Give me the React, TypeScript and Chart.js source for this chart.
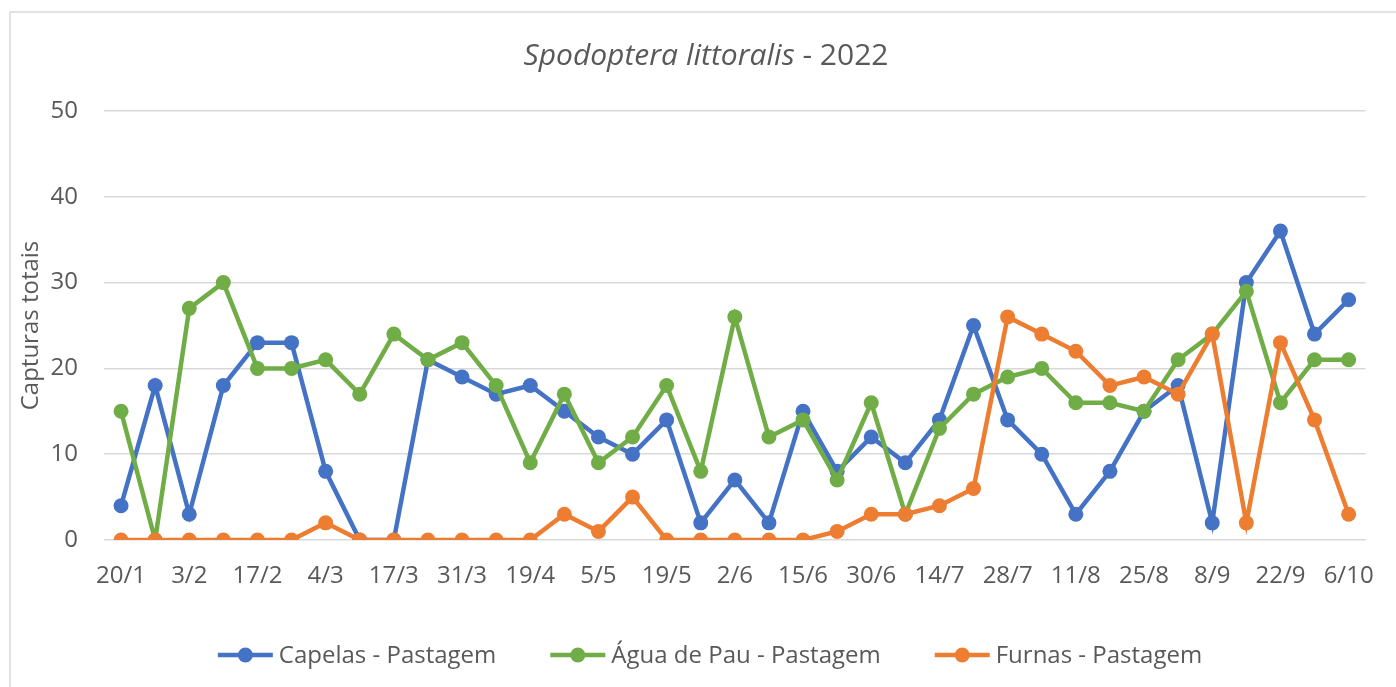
import React, { useEffect, useRef } from "react";
import { Chart, registerables } from "chart.js";

Chart.register(...registerables);

const dates = [
  "20/1", "27/1", "3/2", "10/2", "17/2", "24/2", "4/3", "10/3", "17/3", "24/3",
  "31/3", "7/4", "19/4", "27/4", "5/5", "12/5", "19/5", "26/5", "2/6", "9/6",
  "15/6", "22/6", "30/6", "7/7", "14/7", "21/7", "28/7", "4/8", "11/8", "18/8",
  "25/8", "1/9", "8/9", "15/9", "22/9", "29/9", "6/10",
];

const capelas = [
  4, 18, 3, 18, 23, 23, 8, 0, 0, 21, 19, 17, 18, 15, 12, 10, 14, 2, 7, 2,
  15, 8, 12, 9, 14, 25, 14, 10, 3, 8, 15, 18, 2, 30, 36, 24, 28,
];

const aguaDePau = [
  15, 0, 27, 30, 20, 20, 21, 17, 24, 21, 23, 18, 9, 17, 9, 12, 18, 8, 26, 12,
  14, 7, 16, 3, 13, 17, 19, 20, 16, 16, 15, 21, 24, 29, 16, 21, 21,
];

const furnas = [
  0, 0, 0, 0, 0, 0, 2, 0, 0, 0, 0, 0, 0, 3, 1, 5, 0, 0, 0, 0,
  0, 1, 3, 3, 4, 6, 26, 24, 22, 18, 19, 17, 24, 2, 23, 14, 3,
];

const seriesNames = ["Capelas - Pastagem", "Água de Pau - Pastagem", "Furnas - Pastagem"];
const seriesColors = ["#4472C4", "#70AD47", "#ED7D31"];
const yTicks = [0, 10, 20, 30, 40, 50];

const FONT = "'Open Sans', sans-serif";
const TEXT = "#595959";
const SMALL = 24;
const TITLE = 30;

const decorPlugin = {
  id: "decor",
  beforeDraw(chart: any) {
    const ctx = chart.ctx;
    ctx.save();
    ctx.fillStyle = "#ffffff";
    ctx.fillRect(0, 0, chart.width, chart.height);
    ctx.strokeStyle = "#d9d9d9";
    ctx.lineWidth = 1.5;
    ctx.strokeRect(10, 12, 1500, 800);
    ctx.restore();
  },
  afterDraw(chart: any) {
    const ctx = chart.ctx;
    const area = chart.chartArea;
    ctx.save();
    // Title
    ctx.fillStyle = TEXT;
    ctx.textBaseline = "alphabetic";
    ctx.font = `italic ${TITLE}px ${FONT}`;
    const t1 = "Spodoptera littoralis";
    const w1 = ctx.measureText(t1).width;
    ctx.font = `${TITLE}px ${FONT}`;
    const t2 = " - 2022";
    const w2 = ctx.measureText(t2).width;
    const tx = 706 - (w1 + w2) / 2;
    ctx.font = `italic ${TITLE}px ${FONT}`;
    ctx.textAlign = "left";
    ctx.fillText(t1, tx, 65);
    ctx.font = `${TITLE}px ${FONT}`;
    ctx.fillText(t2, tx + w1, 65);

    // Y axis title
    ctx.save();
    ctx.translate(38, (area.top + area.bottom) / 2);
    ctx.rotate(-Math.PI / 2);
    ctx.font = `${SMALL}px ${FONT}`;
    ctx.textAlign = "center";
    ctx.textBaseline = "alphabetic";
    ctx.fillText("Capturas totais", 0, 0);
    ctx.restore();

    // Legend
    ctx.font = `${SMALL}px ${FONT}`;
    const markerW = 55;
    const gapText = 6;
    const gapItem = 54;
    const widths = seriesNames.map((n) => ctx.measureText(n).width);
    let total = 0;
    widths.forEach((w, i) => {
      total += markerW + gapText + w + (i < widths.length - 1 ? gapItem : 0);
    });
    let x = 710 - total / 2;
    const ly = 655;
    seriesNames.forEach((n, i) => {
      ctx.strokeStyle = seriesColors[i];
      ctx.lineWidth = 4.5;
      ctx.lineCap = "butt";
      ctx.beginPath();
      ctx.moveTo(x, ly);
      ctx.lineTo(x + markerW, ly);
      ctx.stroke();
      ctx.fillStyle = seriesColors[i];
      ctx.beginPath();
      ctx.arc(x + markerW / 2, ly, 7.5, 0, Math.PI * 2);
      ctx.fill();
      ctx.fillStyle = TEXT;
      ctx.textAlign = "left";
      ctx.textBaseline = "alphabetic";
      ctx.fillText(n, x + markerW + gapText, 663);
      x += markerW + gapText + widths[i] + gapItem;
    });
    ctx.restore();
  },
};

export default function App() {
  const ref = useRef<HTMLCanvasElement | null>(null);
  useEffect(() => {
    if (!ref.current) return;
    const data = [capelas, aguaDePau, furnas];
    const chart = new Chart(ref.current, {
      type: "line",
      data: {
        labels: dates,
        datasets: data.map((d, i) => ({
          label: seriesNames[i],
          data: d,
          borderColor: seriesColors[i],
          backgroundColor: seriesColors[i],
          borderWidth: 4.5,
          pointRadius: 7.5,
          pointBorderWidth: 0,
          pointHoverRadius: 7.5,
          tension: 0,
          fill: false,
          order: 3 - i,
        })),
      },
      options: {
        responsive: false,
        animation: false,
        layout: { padding: { top: 111, right: 29, bottom: 0, left: 0 } },
        plugins: {
          legend: { display: false },
          title: { display: false },
          tooltip: { enabled: false },
        },
        scales: {
          x: {
            type: "category",
            offset: true,
            grid: { display: false, drawTicks: false },
            border: { display: false },
            ticks: {
              autoSkip: false,
              maxRotation: 0,
              minRotation: 0,
              padding: 22,
              color: TEXT,
              font: { family: FONT, size: SMALL },
              callback: (_v: any, idx: number) => (idx % 2 === 0 ? dates[idx] : ""),
            },
            afterFit: (scale: any) => {
              scale.height = 147;
            },
          },
          y: {
            min: 0,
            max: 50,
            afterBuildTicks: (scale: any) => {
              scale.ticks = yTicks.map((v) => ({ value: v }));
            },
            grid: { color: "#d9d9d9", lineWidth: 1.5, drawTicks: false },
            border: { display: false },
            ticks: {
              padding: 26,
              color: TEXT,
              font: { family: FONT, size: SMALL },
            },
            afterFit: (scale: any) => {
              scale.width = 104;
            },
          },
        },
      },
      plugins: [decorPlugin],
    });
    return () => chart.destroy();
  }, []);
  return (
    <div style={{ position: "fixed", left: 0, top: 0, width: 1396, height: 687, background: "#fff" }}>
      <canvas ref={ref} width={1396} height={687} style={{ display: "block", width: 1396, height: 687 }} />
    </div>
  );
}
